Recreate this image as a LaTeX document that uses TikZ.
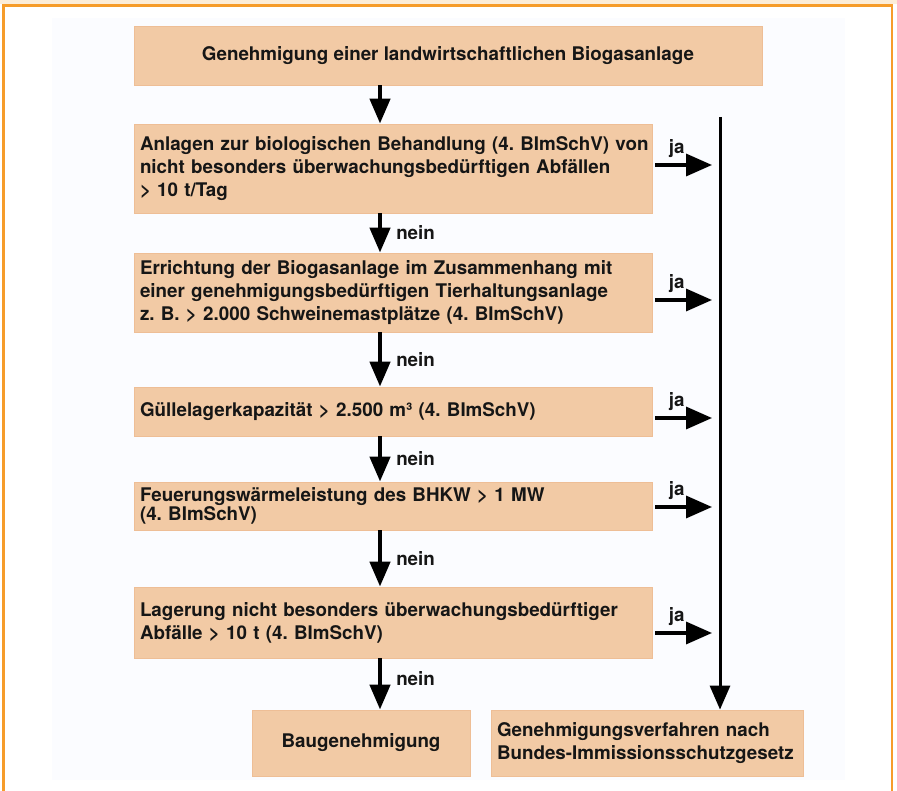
\documentclass[tikz,border=0pt]{standalone}
\usepackage{fontspec}
\setmainfont{TeX Gyre Heros}
\usetikzlibrary{arrows.meta,calc}
\definecolor{boxfill}{RGB}{242,202,165}
\definecolor{boxline}{RGB}{238,190,150}
\definecolor{frameor}{RGB}{246,156,42}
\definecolor{topband}{RGB}{252,237,216}
\definecolor{innerbg}{RGB}{251,252,255}
\definecolor{txt}{RGB}{22,22,22}
\newcommand{\Zl}[1]{\mbox{#1}}
\frenchspacing
\begin{document}
\begin{tikzpicture}[x=1pt,y=-1pt,
  box/.style={draw=boxline, line width=0.8pt, fill=boxfill, text=txt,
    font=\bfseries\fontsize{18.8}{23}\selectfont, inner xsep=6pt, inner ysep=0pt,
    anchor=center, align=left},
  lab/.style={text=txt, font=\bfseries\fontsize{18.8}{23}\selectfont, inner sep=0pt},
  downarrow/.style={draw=black, line width=4.5pt, -{Triangle[length=25pt,width=20pt]}},
  jaarrow/.style={draw=black, line width=3.5pt, -{Triangle[length=26pt,width=22pt]}, shorten >=8pt},
  vline/.style={draw=black, line width=3pt, -{Triangle[length=24pt,width=20pt]}}
]
\useasboundingbox (0,0) rectangle (897,791);
\fill[white] (0,0) rectangle (897,791);
\fill[topband] (0,0) rectangle (897,4.5);
\fill[innerbg] (52,18) rectangle (845,780);
\draw[frameor, line width=2.5pt] (3.5,791) -- (3.5,5.3) -- (892,5.3) -- (892,791);

\coordinate (cx) at (380,0);
\coordinate (vtop) at (720,117);

\node[box, align=center, minimum width=628pt, minimum height=59pt] (b0) at (448,55.5)
  {Genehmigung einer landwirtschaftlichen Biogasanlage};
\node[box, text width=506pt, minimum height=89pt] (b1) at (393,168.5)
  {\Zl{Anlagen zur biologischen Behandlung (4. BImSchV) von}\\\Zl{nicht besonders überwachungsbedürftigen Abfällen}\\\Zl{> 10 t/Tag}};
\node[box, text width=506pt, minimum height=79pt] (b2) at (393,292.5)
  {\Zl{Errichtung der Biogasanlage im Zusammenhang mit}\\\Zl{einer genehmigungsbedürftigen Tierhaltungsanlage}\\\Zl{z. B. > 2.000 Schweinemastplätze (4. BImSchV)}};
\node[box, text width=506pt, minimum height=49pt] (b3) at (393,411.5)
  {\Zl{Güllelagerkapazität > 2.500 m³ (4. BImSchV)}};
\node[box, text width=506pt, minimum height=48pt, font=\bfseries\fontsize{18.8}{17.5}\selectfont] (b4) at (393,506)
  {\Zl{Feuerungswärmeleistung des BHKW > 1 MW}\\\Zl{(4. BImSchV)}};
\node[box, text width=506pt, minimum height=71pt] (b5) at (393,622.5)
  {\Zl{Lagerung nicht besonders überwachungsbedürftiger}\\\Zl{Abfälle > 10 t (4. BImSchV)}};
\node[box, align=center, minimum width=218pt, minimum height=66pt] (bau) at (361,743)
  {Baugenehmigung};
\node[box, text width=300pt, minimum height=66pt] (bim) at (647,743)
  {\Zl{Genehmigungsverfahren nach}\\\Zl{Bundes-Immissionsschutzgesetz}};

% vertical "nein" chain
\draw[downarrow] (b0.south -| cx) -- (b1.north -| cx);
\draw[downarrow] (b1.south -| cx) -- node[lab, right=14pt] {nein} (b2.north -| cx);
\draw[downarrow] (b2.south -| cx) -- node[lab, right=14pt] {nein} (b3.north -| cx);
\draw[downarrow] (b3.south -| cx) -- node[lab, right=14pt] {nein} (b4.north -| cx);
\draw[downarrow] (b4.south -| cx) -- node[lab, right=14pt] {nein} (b5.north -| cx);
\draw[downarrow] (b5.south -| cx) -- node[lab, right=14pt, yshift=5pt] {nein} (bau.north -| cx);

% collecting line
\draw[vline] (vtop) -- (bim.north -| vtop);

% "ja" arrows
\draw[jaarrow] ([xshift=3pt,yshift=3.5pt]b1.east) -- node[lab, pos=0.33, above=6pt] {ja} ([yshift=3.5pt]b1.east -| vtop);
\draw[jaarrow] ([xshift=3pt,yshift=-7.5pt]b2.east) -- node[lab, pos=0.33, above=6pt] {ja} ([yshift=-7.5pt]b2.east -| vtop);
\draw[jaarrow] ([xshift=3pt,yshift=-6.5pt]b3.east) -- node[lab, pos=0.33, above=6pt] {ja} ([yshift=-6.5pt]b3.east -| vtop);
\draw[jaarrow] ([xshift=3pt,yshift=-1pt]b4.east) -- node[lab, pos=0.33, above=6pt] {ja} ([yshift=-1pt]b4.east -| vtop);
\draw[jaarrow] ([xshift=3pt,yshift=-10.5pt]b5.east) -- node[lab, pos=0.33, above=6pt] {ja} ([yshift=-10.5pt]b5.east -| vtop);
\end{tikzpicture}
\end{document}
